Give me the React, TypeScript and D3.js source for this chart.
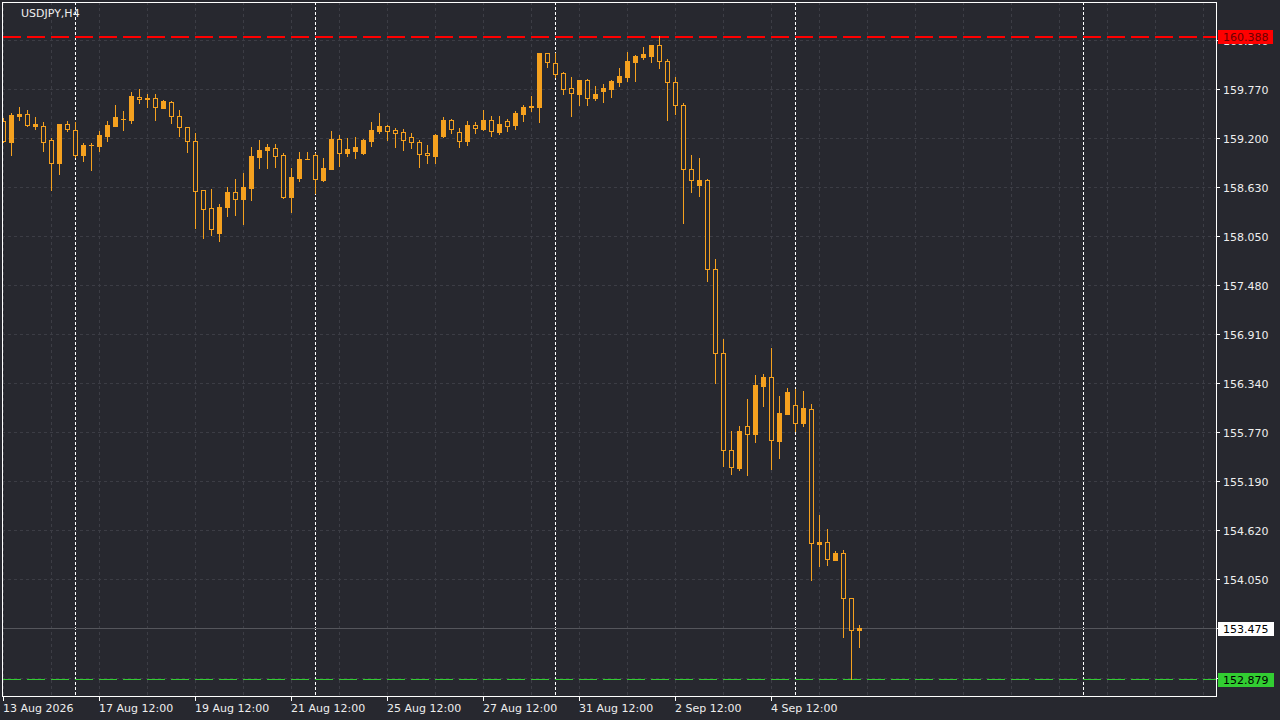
import React from 'react';
import * as d3 from 'd3';

// ---------- data ----------
const symbolTitle = 'USDJPY,H4';

const opens = [
  159.397, 159.155, 159.455, 159.475, 159.339, 159.339, 159.175, 158.910, 159.362, 159.292,
  159.005, 159.113, 159.110, 159.225, 159.342, 159.417, 159.412, 159.681, 159.662, 159.662,
  159.552, 159.615, 159.452, 159.323, 159.160, 158.588, 158.378, 158.086, 158.390, 158.565,
  158.483, 158.619, 158.980, 159.055, 159.082, 159.000, 158.513, 158.735, 158.950, 158.997,
  158.713, 158.840, 159.183, 159.028, 159.050, 159.023, 159.167, 159.284, 159.339, 159.292,
  159.268, 159.210, 159.152, 159.023, 158.992, 159.222, 159.409, 159.268, 159.167, 159.347,
  159.303, 159.409, 159.268, 159.397, 159.350, 159.482, 159.564, 159.560, 160.191, 160.070,
  159.957, 159.779, 159.716, 159.876, 159.665, 159.751, 159.770, 159.856, 159.914, 160.090,
  160.148, 160.159, 160.284, 160.094, 159.852, 159.584, 158.833, 158.654, 158.705, 157.666,
  156.685, 155.553, 155.349, 155.833, 155.746, 156.307, 156.405, 155.666, 155.980, 156.078,
  155.876, 156.031, 154.462, 154.479, 154.275, 154.350, 153.834, 153.455,
];

const highs = [
  159.428, 159.494, 159.557, 159.525, 159.440, 159.389, 159.195, 159.362, 159.397, 159.382,
  159.137, 159.137, 159.280, 159.397, 159.580, 159.514, 159.732, 159.767, 159.709, 159.709,
  159.646, 159.627, 159.525, 159.323, 159.253, 158.588, 158.603, 158.428, 158.623, 158.716,
  158.790, 159.097, 159.175, 159.125, 159.128, 159.020, 158.846, 159.035, 159.031, 159.028,
  158.965, 159.280, 159.233, 159.202, 159.214, 159.187, 159.385, 159.490, 159.350, 159.312,
  159.303, 159.257, 159.175, 159.117, 159.242, 159.440, 159.417, 159.315, 159.397, 159.385,
  159.525, 159.455, 159.455, 159.420, 159.514, 159.584, 159.689, 160.191, 160.191, 160.194,
  159.969, 159.911, 159.876, 159.891, 159.809, 159.829, 159.875, 160.019, 160.199, 160.167,
  160.261, 160.284, 160.388, 160.117, 159.911, 159.611, 158.996, 158.965, 158.720, 157.786,
  156.852, 155.778, 155.836, 156.151, 156.432, 156.443, 156.743, 156.187, 156.280, 156.271,
  156.245, 156.093, 154.797, 154.634, 154.377, 154.389, 153.805, 153.513,
];

const lows = [
  159.155, 159.000, 159.409, 159.339, 159.303, 159.050, 158.591, 158.778, 159.284, 158.980,
  158.930, 158.825, 159.050, 159.167, 159.339, 159.292, 159.377, 159.604, 159.564, 159.409,
  159.545, 159.377, 159.225, 159.038, 158.148, 158.035, 158.063, 157.993, 158.291, 158.300,
  158.191, 158.475, 158.853, 158.853, 158.865, 158.498, 158.338, 158.700, 158.950, 158.561,
  158.700, 158.840, 158.876, 158.988, 158.968, 159.012, 159.109, 159.260, 159.175, 159.097,
  159.058, 159.085, 158.865, 158.911, 158.911, 159.214, 159.260, 159.097, 159.117, 159.260,
  159.292, 159.222, 159.245, 159.284, 159.307, 159.400, 159.510, 159.385, 160.031, 159.914,
  159.716, 159.455, 159.584, 159.587, 159.642, 159.619, 159.677, 159.809, 159.864, 159.864,
  160.121, 160.086, 160.020, 159.409, 159.479, 158.203, 158.572, 158.525, 157.533, 156.342,
  155.373, 155.279, 155.326, 155.268, 155.653, 156.073, 155.338, 155.466, 155.980, 155.781,
  155.840, 154.038, 154.205, 154.213, 154.275, 153.377, 152.879, 153.260,
];

const closes = [
  159.163, 159.467, 159.478, 159.354, 159.362, 159.155, 158.910, 159.362, 159.300, 159.005,
  159.113, 159.120, 159.230, 159.347, 159.444, 159.425, 159.689, 159.657, 159.657, 159.557,
  159.630, 159.452, 159.323, 159.160, 158.583, 158.374, 158.133, 158.390, 158.565, 158.483,
  158.623, 158.988, 159.055, 159.093, 158.993, 158.513, 158.740, 158.950, 158.957, 158.716,
  158.848, 159.183, 159.028, 159.070, 159.093, 159.175, 159.292, 159.339, 159.284, 159.260,
  159.179, 159.155, 159.015, 158.996, 159.230, 159.409, 159.307, 159.167, 159.350, 159.312,
  159.409, 159.277, 159.362, 159.342, 159.490, 159.560, 159.568, 160.191, 160.082, 159.949,
  159.774, 159.720, 159.876, 159.669, 159.712, 159.782, 159.864, 159.922, 160.097, 160.156,
  160.179, 160.284, 160.094, 159.849, 159.580, 158.833, 158.705, 158.708, 157.666, 156.685,
  155.553, 155.354, 155.778, 155.746, 156.315, 156.408, 155.670, 155.988, 156.233, 155.876,
  156.046, 154.467, 154.479, 154.280, 154.354, 153.834, 153.451, 153.475,
];

const priceTicks = [
  160.340, 159.770, 159.200, 158.630, 158.050, 157.480, 156.910, 156.340,
  155.770, 155.190, 154.620, 154.050, 153.480, 152.900,
];

const timeLabels = [
  '13 Aug 2026', '17 Aug 12:00', '19 Aug 12:00', '21 Aug 12:00', '25 Aug 12:00',
  '27 Aug 12:00', '31 Aug 12:00', '2 Sep 12:00', '4 Sep 12:00',
];
const timeLabelBars = [0, 12, 24, 36, 48, 60, 72, 84, 96];

const periodSeparatorBars = [9, 39, 69, 99, 135];
const gridBarStep = 6;
const gridBarMax = 150;

const highLinePrice = 160.388; // red horizontal line
const lowLinePrice = 152.879; // green horizontal line
const bidPrice = 153.475; // current price line

// ---------- styling ----------
const BG = '#27282f';
const GRID = '#3c3d45';
const CANDLE = '#f5a11f';
const TEXT = '#eeeeee';
const FONT = "'DejaVu Sans', Verdana, sans-serif";

const W = 1280;
const H = 720;
const PL = 2;
const PT = 2;
const PR = 1216;
const PB = 696;

export default function App() {
  const x = d3.scaleLinear().domain([0, 1]).range([3.5, 11.5]);
  const y = d3.scaleLinear().domain([152.6842, 160.7856]).range([PB, PT]);
  const ry = (p: number) => Math.round(y(p));

  const gridBars = d3.range(0, gridBarMax + 1, gridBarStep);
  const n = closes.length;

  const candles = d3.range(n).map((i) => {
    const o = opens[i];
    const c = closes[i];
    const h = highs[i];
    const l = lows[i];
    const cx = x(i);
    const top = ry(Math.max(o, c));
    const bot = ry(Math.min(o, c));
    const hi = ry(h);
    const lo = ry(l);
    const bull = c >= o;
    return (
      <g key={i}>
        <line x1={cx} x2={cx} y1={hi} y2={lo + 1} stroke={CANDLE} strokeWidth={1} />
        {bull ? (
          <rect x={cx - 2.5} y={top} width={5} height={Math.max(1, bot - top + 1)} fill={CANDLE} />
        ) : (
          <rect
            x={cx - 2}
            y={top + 0.5}
            width={4}
            height={Math.max(0, bot - top)}
            fill={BG}
            stroke={CANDLE}
            strokeWidth={1}
          />
        )}
      </g>
    );
  });

  const tagRow = (p: number, bg: string, fg: string, w: number, key: string) => {
    const yy = y(p);
    return (
      <g key={key}>
        <rect x={1218} y={Math.round(yy) - 6.5} width={w} height={14} fill={bg} />
        <text x={1223} y={Math.round(yy) + 5} fill={fg} fontSize={11} fontFamily={FONT}>
          {p.toFixed(3)}
        </text>
      </g>
    );
  };

  return (
    <svg
      width={W}
      height={H}
      viewBox={`0 0 ${W} ${H}`}
      style={{ position: 'fixed', left: 0, top: 0, display: 'block' }}
      shapeRendering="crispEdges"
    >
      <defs>
        <clipPath id="plotClip">
          <rect x={PL} y={PT} width={PR - PL} height={PB - PT} />
        </clipPath>
      </defs>
      <rect x={0} y={0} width={W} height={H} fill={BG} />

      <g clipPath="url(#plotClip)">
        {/* horizontal grid */}
        {priceTicks.map((p) => (
          <line
            key={'hg' + p}
            x1={PL}
            x2={PR}
            y1={ry(p) + 0.5}
            y2={ry(p) + 0.5}
            stroke={GRID}
            strokeWidth={1}
            strokeDasharray="3,3"
          />
        ))}
        {/* vertical grid */}
        {gridBars.map((b) => (
          <line
            key={'vg' + b}
            x1={x(b)}
            x2={x(b)}
            y1={PT}
            y2={PB}
            stroke={GRID}
            strokeWidth={1}
            strokeDasharray="3,3"
          />
        ))}
        {/* period separators */}
        {periodSeparatorBars.map((b) => (
          <line
            key={'ps' + b}
            x1={x(b)}
            x2={x(b)}
            y1={PT}
            y2={PB}
            stroke="#ffffff"
            strokeWidth={1}
            strokeDasharray="3,2"
          />
        ))}
        {/* current price line */}
        <line x1={PL} x2={PR} y1={ry(bidPrice) + 0.5} y2={ry(bidPrice) + 0.5} stroke="#55565c" strokeWidth={1} />
        {/* red & green horizontal lines */}
        <line
          x1={3}
          x2={PR}
          y1={ry(highLinePrice) + 0.5}
          y2={ry(highLinePrice) + 0.5}
          stroke="#ff0000"
          strokeWidth={2}
          strokeDasharray="18,6"
        />
        <line
          x1={3}
          x2={PR}
          y1={ry(lowLinePrice) + 0.5}
          y2={ry(lowLinePrice) + 0.5}
          stroke="#32cd32"
          strokeWidth={1}
          strokeDasharray="18,6"
        />
        {candles}
      </g>

      {/* frame */}
      <rect x={PL + 0.5} y={PT + 0.5} width={PR - PL} height={PB - PT} fill="none" stroke="#ffffff" strokeWidth={1} />

      {/* right axis */}
      {priceTicks.map((p) => (
        <g key={'yt' + p}>
          <line x1={PR} x2={PR + 4} y1={ry(p) + 0.5} y2={ry(p) + 0.5} stroke="#ffffff" />
          <text x={1223} y={ry(p) + 5} fill={TEXT} fontSize={11} fontFamily={FONT}>
            {p.toFixed(3)}
          </text>
        </g>
      ))}

      {/* bottom axis */}
      {timeLabelBars.map((b, i) => (
        <g key={'xt' + b}>
          <line x1={x(b)} x2={x(b)} y1={PB} y2={PB + 5} stroke="#ffffff" />
          <text x={x(b) - 0.5} y={712} fill={TEXT} fontSize={11} fontFamily={FONT}>
            {timeLabels[i]}
          </text>
        </g>
      ))}

      {/* price tags */}
      {tagRow(highLinePrice, '#ff0000', '#6b0000', 55, 'tagHigh')}
      {tagRow(bidPrice, '#ffffff', '#000000', 56, 'tagBid')}
      {tagRow(lowLinePrice, '#32cd32', '#000000', 56, 'tagLow')}

      {/* title */}
      <text x={21} y={16.5} fill={TEXT} fontSize={11} fontFamily={FONT}>
        {symbolTitle}
      </text>
    </svg>
  );
}
